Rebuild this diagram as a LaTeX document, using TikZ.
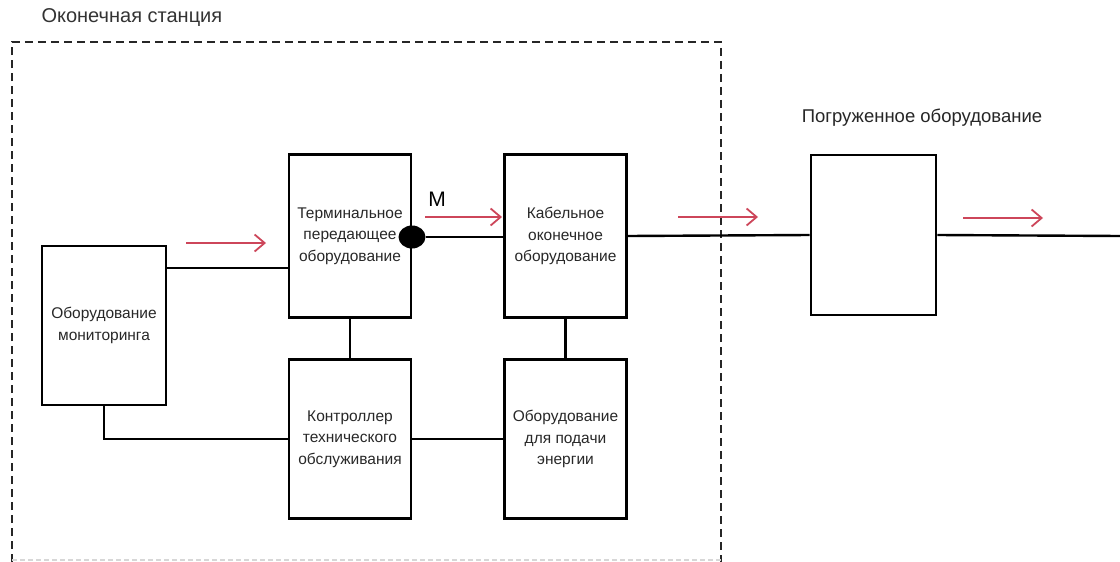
\documentclass[tikz,border=0pt]{standalone}
\usepackage{fontspec}
\setmainfont{Liberation Sans}
\usetikzlibrary{arrows.meta,shapes.geometric}
\definecolor{flowred}{RGB}{205,70,90}
\definecolor{faint}{RGB}{215,215,215}
\definecolor{ink}{RGB}{40,40,40}
\tikzset{
  unit/.style={draw, line width=2.8pt, minimum width=122pt, minimum height=162pt,
    inner sep=0pt, align=center, text=ink, font=\fontsize{15.5}{21.5}\selectfont},
  wire/.style={line width=2.4pt},
  flow/.style={draw=flowred, line width=1.8pt, -{Straight Barb[length=10pt,width=17pt,line width=1.8pt]}},
  frame/.style={line width=2.4pt, dash pattern=on 8pt off 5pt, draw=black!85},
}
\begin{document}
\begin{tikzpicture}[x=1pt,y=-1pt]
\useasboundingbox[fill=white] (0,0) rectangle (1120,562);

% terminal station frame
\draw[frame] (12,562) -- (12,42) -- (721,42) -- (721,562);
\draw[faint, line width=1.5pt, dash pattern=on 5pt off 3pt] (12,560) -- (721,560);
\node[anchor=west, font=\fontsize{20}{24}\selectfont, text=black!80] (title) at (38,18) {Оконечная станция};

% equipment blocks
\node[unit, minimum width=124pt, minimum height=159pt] (mon) at (104,325.5) {Оборудование\\мониторинга};
\node[unit, minimum height=163pt] (tx) at (350,236) {Терминальное\\передающее\\оборудование};
\node[unit, minimum height=163pt] (cab) at (565.5,236) {Кабельное\\оконечное\\оборудование};
\node[unit, minimum height=159pt] (ctl) at (350,439) {Контроллер\\технического\\обслуживания};
\node[unit, minimum height=159pt] (pwr) at (565.5,439) {Оборудование\\для подачи\\энергии};
\node[unit, minimum width=125pt, minimum height=160pt] (sub) at (873.5,235) {};
\node[font=\fontsize{18.5}{22}\selectfont, text=black!85] (subtitle) at (922,118) {Погруженное оборудование};

% monitoring point
\node[ellipse, fill=black, minimum width=27pt, minimum height=23pt, inner sep=0pt] (m) at (412,237) {};
\node[font=\fontsize{21}{24}\selectfont] (mlabel) at (437,199) {M};

% connections
\coordinate (monjoin) at (mon.east |- 0,268);
\draw[wire] (monjoin) -- (monjoin -| tx.west);
\draw[wire] (mon.south) |- (ctl.west);
\draw[wire] (ctl.east) -- (pwr.west);
\draw[wire] (tx.south) -- (ctl.north);
\draw[wire] (cab.south) -- (pwr.north);
\draw[wire] (m.east) -- (m.east -| cab.west);
\draw[wire] (cab.east) -- (sub.west);
\coordinate (lineend) at (1120,236);
\draw[wire] (sub.east) -- (lineend);

% direction of transmission
\coordinate (f1a) at (186,243); \coordinate (f1b) at (266,243);
\coordinate (f2a) at (425,217); \coordinate (f2b) at (502,217);
\coordinate (f3a) at (678,217); \coordinate (f3b) at (758,217);
\coordinate (f4a) at (963,218); \coordinate (f4b) at (1043,218);
\draw[flow] (f1a) -- (f1b);
\draw[flow] (f2a) -- (f2b);
\draw[flow] (f3a) -- (f3b);
\draw[flow] (f4a) -- (f4b);
\end{tikzpicture}
\end{document}
